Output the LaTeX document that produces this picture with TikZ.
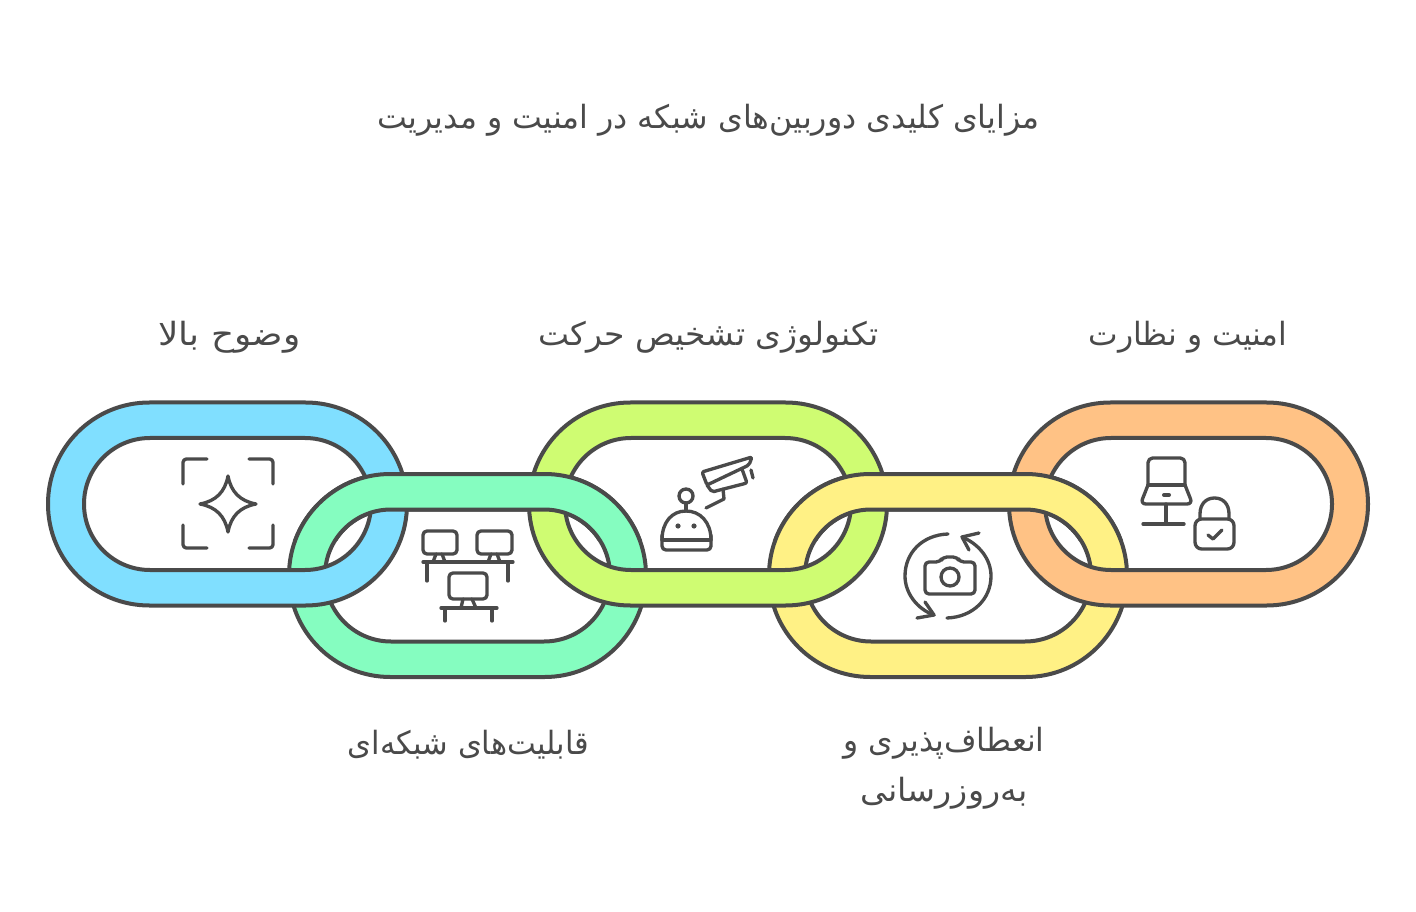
\documentclass[tikz,border=0pt]{standalone}
\usepackage{fontspec}
\TeXXeTstate=1
\newfontfamily\arabicfont[Script=Arabic]{DejaVu Sans}
\definecolor{ink}{HTML}{4A4A4A}
\definecolor{cblue}{HTML}{80DFFF}
\definecolor{cgreen}{HTML}{85FDC0}
\definecolor{clime}{HTML}{CFFC72}
\definecolor{cyellow}{HTML}{FFF185}
\definecolor{corange}{HTML}{FFC285}
\tikzset{
  ringline/.style={draw=ink,line width=3pt,even odd rule},
  iconline/.style={draw=ink,line width=2.5pt,line cap=round,line join=round,fill=none},
  label/.style={text=ink,inner sep=0pt,align=center,font=\arabicfont\fontsize{24}{37.5}\selectfont}
}
% ring: left right centre-y colour
\newcommand{\linkring}[4]{%
  \path[ringline,fill=#4,rounded corners=76pt]
    (#1,#3-101.5) rectangle (#2,#3+101.5)
    [rounded corners=49.5pt] (#1+36,#3-66) rectangle (#2-36,#3+66);%
}
% a line of text stretched to a width given in pixels
\newdimen\pxunit \pxunit=0.75pt
\newcommand{\fitwidth}[2]{\resizebox{#1\pxunit}{\height}{#2}}
\begin{document}
\begin{tikzpicture}[x=0.75pt,y=-0.75pt]
\useasboundingbox (0,0) rectangle (1416,912);
\linkring{289}{646}{575.5}{cgreen}
\linkring{769}{1127}{575.5}{cyellow}
\linkring{48}{407}{504}{cblue}
\linkring{529}{887}{504}{clime}
\linkring{1009}{1368}{504}{corange}
\begin{scope}
  \clip (200,440) rectangle (1200,540);
  \linkring{289}{646}{575.5}{cgreen}
  \linkring{769}{1127}{575.5}{cyellow}
\end{scope}
% icon: focus star
\draw[iconline,rounded corners=2.5pt] (183,484) -- (183,459) -- (207,459);
\draw[iconline,rounded corners=2.5pt] (249,459) -- (273,459) -- (273,484);
\draw[iconline,rounded corners=2.5pt] (183,525) -- (183,548) -- (207,548);
\draw[iconline,rounded corners=2.5pt] (249,548) -- (273,548) -- (273,525);
\draw[iconline] (228,476) .. controls (231,492) and (240,501) .. (256,504)
  .. controls (240,507) and (231,516) .. (228,532)
  .. controls (225,516) and (216,507) .. (200,504)
  .. controls (216,501) and (225,492) .. (228,476) -- cycle;
% icon: monitors
\draw[iconline,rounded corners=3pt] (423,531) rectangle (457,554);
\draw[iconline,rounded corners=3pt] (477,531) rectangle (512,554);
\draw[iconline] (423,562) -- (513,562) (427,562) -- (427,581) (508,562) -- (508,581);
\draw[iconline] (436,554) -- (433,562) (442,554) -- (445,562);
\draw[iconline] (491,554) -- (488,562) (497,554) -- (500,562);
\draw[iconline,rounded corners=3pt] (449,573) rectangle (487,599);
\draw[iconline] (441,608) -- (497,608) (445,608) -- (445,621) (492,608) -- (492,621);
\draw[iconline] (463,599) -- (461,608) (472,599) -- (476,608);
% icon: robot and camera
\draw[iconline] (662,540) .. controls (662,522) and (672,511) .. (686,511)
  .. controls (700,511) and (711,522) .. (711,540);
\draw[iconline,rounded corners=3pt] (662,535) -- (662,550) -- (711,550) -- (711,535);
\draw[iconline] (662,540) -- (711,540);
\draw[iconline] (686,503) -- (686,511);
\draw[iconline] (686,496) circle (7);
\fill[ink] (678,526) circle (2.6) (694,526) circle (2.6);
\draw[iconline,rounded corners=1.5pt] (752,457) -- (702,472) -- (707,485) -- (749,465) -- cycle;
\draw[iconline,rounded corners=1.5pt] (707,485) -- (712,492) -- (747,483) -- (742,469);
\draw[iconline] (751,470) -- (753,478);
\draw[iconline] (706,508) -- (724,499) -- (723,489);
% icon: rotating camera
\draw[iconline,rounded corners=3pt] (925,562) -- (940,562) -- (943,557) -- (957,557) -- (960,562) -- (975,562) -- (975,594) -- (925,594) -- cycle;
\draw[iconline] (950,577) circle (9);
\draw[iconline] (948,534) .. controls (922,535) and (905,553) .. (905,576) .. controls (905,593) and (917,609) .. (934,615);
\draw[iconline] (925,602) -- (934,615) -- (917,618);
\draw[iconline] (947,618) .. controls (973,617) and (991,599) .. (991,576) .. controls (991,559) and (979,544) .. (962,537);
\draw[iconline] (979,533) -- (962,537) -- (969,550);
% icon: laptop and lock
\draw[iconline,rounded corners=3.5pt] (1148,485) -- (1148,458) -- (1185,458) -- (1185,485);
\draw[iconline] (1148,485) -- (1185,485);
\draw[iconline,rounded corners=4pt] (1148,485) -- (1140.5,504) -- (1192.5,504) -- (1185,485);
\draw[iconline,line width=3pt] (1164,495) -- (1169,495);
\draw[iconline] (1166,504) -- (1166,524) (1143,524) -- (1184,524);
\draw[iconline,rounded corners=5pt] (1195,519) rectangle (1234,549);
\draw[iconline] (1200,519) -- (1200,514) .. controls (1200,504) and (1206,498) .. (1214.5,498) .. controls (1223,498) and (1229,504) .. (1229,514) -- (1229,519);
\draw[iconline] (1208,535) -- (1213,539) -- (1222,530);
% texts
\node[label] (title) at (708.5,120.5) {\fitwidth{662}{\beginR مزایای کلیدی دوربین‌های شبکه در امنیت و مدیریت\endR}};
\node[label] (lone) at (229.5,337.5) {\fitwidth{142}{\beginR وضوح بالا\endR}};
\node[label] (lthree) at (708.5,337.5) {\fitwidth{341}{\beginR تکنولوژی تشخیص حرکت\endR}};
\node[label] (lfive) at (1188,337.5) {\fitwidth{199}{\beginR امنیت و نظارت\endR}};
\node[label] (ltwo) at (468.5,744.5) {\fitwidth{241}{\beginR قابلیت‌های شبکه‌ای\endR}};
\node[label] (lfour) at (944,768.5) {\fitwidth{201}{\beginR انعطاف‌پذیری و\endR}\\\fitwidth{167}{\beginR به‌روزرسانی\endR}};
\end{tikzpicture}
\end{document}
